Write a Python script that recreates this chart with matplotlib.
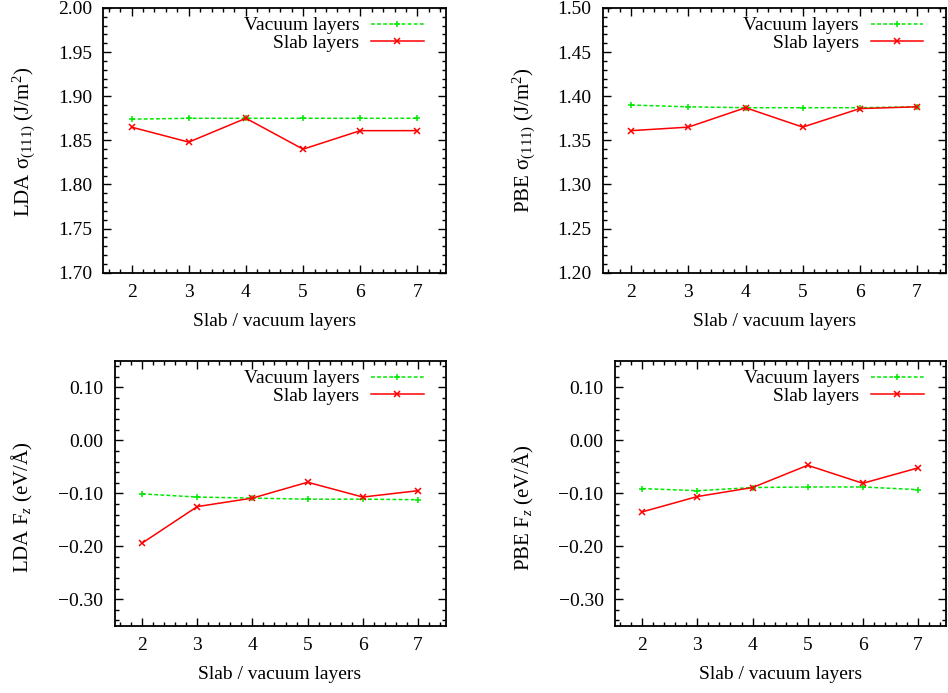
import matplotlib
matplotlib.use("Agg")
import matplotlib.pyplot as plt
from matplotlib.ticker import MultipleLocator, FuncFormatter

plt.rcParams["font.family"] = ["Liberation Serif", "DejaVu Serif"]
plt.rcParams["mathtext.fontset"] = "custom"
plt.rcParams["mathtext.rm"] = "Liberation Serif"
plt.rcParams["mathtext.it"] = "Liberation Serif:italic"

layers = [2, 3, 4, 5, 6, 7]

# surface energies sigma_(111), J/m^2
lda_sigma_vac = [1.874, 1.875, 1.875, 1.875, 1.875, 1.875]
lda_sigma_slab = [1.865, 1.848, 1.875, 1.840, 1.861, 1.861]
pbe_sigma_vac = [1.390, 1.388, 1.387, 1.387, 1.387, 1.388]
pbe_sigma_slab = [1.361, 1.365, 1.387, 1.365, 1.386, 1.388]

# forces F_z, eV/A
lda_fz_vac = [-0.101, -0.107, -0.109, -0.111, -0.111, -0.112]
lda_fz_slab = [-0.194, -0.125, -0.109, -0.079, -0.107, -0.095]
pbe_fz_vac = [-0.091, -0.095, -0.089, -0.088, -0.088, -0.093]
pbe_fz_slab = [-0.135, -0.106, -0.089, -0.047, -0.081, -0.052]

W, H = 948, 693
fig = plt.figure(figsize=(W / 100, H / 100), dpi=100)


def box(left, right, top, bottom):
    return [left / W, 1 - bottom / H, (right - left) / W, (bottom - top) / H]


def fmt(v, pos):
    return f"{v:.2f}".replace("-", "\u2212")


panels = [
    (box(103, 446, 8, 272.7), lda_sigma_vac, lda_sigma_slab, (1.70, 2.00), 0.05, 0.01,
     r"LDA σ$_{\mathrm{(111)}}$ (J/m$^{2}$)", (-0.19, 0.492)),
    (box(602.7, 945.5, 8, 272.7), pbe_sigma_vac, pbe_sigma_slab, (1.20, 1.50), 0.05, 0.01,
     r"PBE σ$_{\mathrm{(111)}}$ (J/m$^{2}$)", (-0.19, 0.5)),
    (box(114.5, 445.5, 361, 625.7), lda_fz_vac, lda_fz_slab, (-0.35, 0.15), 0.10, 0.02,
     r"LDA F$_{z}$ (eV/Å)", (-0.24, 0.448)),
    (box(614.7, 945.5, 361, 625.7), pbe_fz_vac, pbe_fz_slab, (-0.35, 0.15), 0.10, 0.02,
     r"PBE F$_{z}$ (eV/Å)", (-0.238, 0.448)),
]

for rect, vac, slab, ylim, major, minor, ylabel, lab_xy in panels:
    ax = fig.add_axes(rect)
    ax.plot(layers, vac, color="#00e800", lw=1.1, ls=(0, (2.5, 1.5)),
            marker="+", ms=5, mew=1.1, label="Vacuum layers")
    ax.plot(layers, slab, color="#ff0000", lw=1.1, ls="-",
            marker="x", ms=4.5, mew=1.1, label="Slab layers")
    ax.set_xlim(1.5, 7.5)
    ax.set_ylim(*ylim)
    ax.xaxis.set_major_locator(MultipleLocator(1))
    ax.xaxis.set_minor_locator(MultipleLocator(0.2))
    ax.yaxis.set_major_locator(MultipleLocator(major))
    ax.yaxis.set_minor_locator(MultipleLocator(minor))
    ax.yaxis.set_major_formatter(FuncFormatter(fmt))
    ax.tick_params(which="both", direction="in", top=True, right=True,
                   labelsize=14, width=1.0)
    ax.tick_params(which="major", length=6, pad=8)
    ax.tick_params(which="minor", length=3)
    for sp in ax.spines.values():
        sp.set_linewidth(1.3)
    ax.set_xlabel("Slab / vacuum layers", fontsize=14, labelpad=9)
    ax.set_ylabel(ylabel, fontsize=15)
    ax.yaxis.set_label_coords(*lab_xy)
    ax.legend(loc="upper right", bbox_to_anchor=(0.96, 1.0), frameon=False,
              markerfirst=False, fontsize=14, handlelength=2.7, numpoints=1,
              borderaxespad=0.2, labelspacing=0.0, handletextpad=0.6,
              borderpad=0.25)

fig.savefig("out.png", dpi=100)
